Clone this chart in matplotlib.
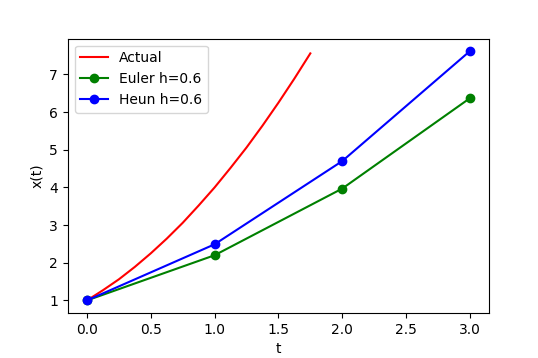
import numpy as np
import matplotlib
matplotlib.use('Agg')
import matplotlib.pyplot as plt

# actual solution
t_actual = [0.0, 0.125, 0.25, 0.375, 0.5, 0.625, 0.75, 0.875, 1.0,
            1.125, 1.25, 1.375, 1.5, 1.625, 1.75]
x_actual = [1.0, 1.27, 1.56, 1.89, 2.25, 2.64, 3.06, 3.52, 4.0,
            4.52, 5.06, 5.64, 6.25, 6.89, 7.56]

t_steps = [0, 1, 2, 3]
x_euler = [1.0, 2.2, 3.97, 6.37]
x_heun = [1.0, 2.49, 4.70, 7.62]

fig = plt.figure(figsize=(5.38, 3.58), dpi=100)
ax = fig.add_subplot(111)
fig.subplots_adjust(left=0.126, right=0.909, bottom=0.126, top=0.892)

ax.plot(t_actual, x_actual, color='red', label='Actual')
ax.plot(t_steps, x_euler, 'o-', color='green', label='Euler h=0.6')
ax.plot(t_steps, x_heun, 'o-', color='blue', label='Heun h=0.6')

ax.set_xlabel('t')
ax.set_ylabel('x(t)')
ax.legend(loc='upper left')

fig.savefig('out.png', dpi=100)
